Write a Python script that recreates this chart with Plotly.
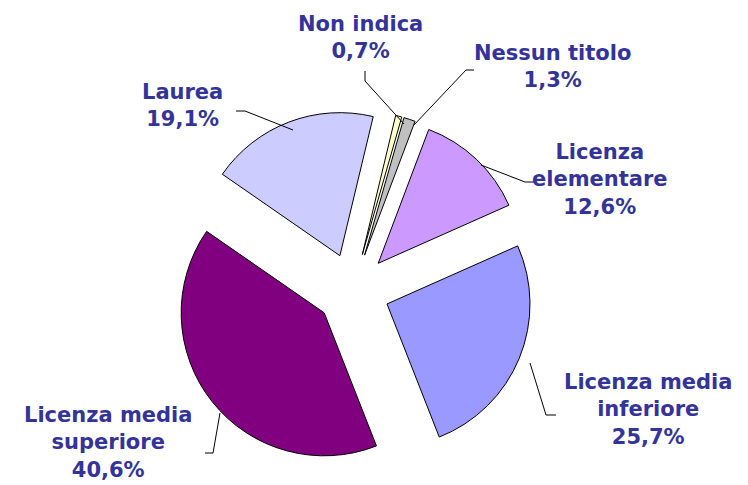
import plotly.graph_objects as go

W, H = 748, 485

categories = ["Nessun titolo", "Licenza elementare", "Licenza media inferiore",
              "Licenza media superiore", "Laurea", "Non indica"]
values = [1.3, 12.6, 25.7, 40.6, 19.1, 0.7]
label_texts = ["Nessun titolo<br>1,3%", "Licenza<br>elementare<br>12,6%",
               "Licenza media<br>inferiore<br>25,7%", "Licenza media<br>superiore<br>40,6%",
               "Laurea<br>19,1%", "Non indica<br>0,7%"]
colors = ["#C0C0C0", "#CC99FF", "#9999FF", "#800080", "#CCCCFF", "#FFFFCC"]

# label centres (pixels) and leader lines (pixels)
label_pos = [(544, 58), (592, 171), (640, 401), (100, 434), (174, 98), (352, 29)]
leaders = [
    [(466, 62), (458, 62), (405, 118)],
    [(527, 174), (517, 174), (473, 157)],
    [(548, 407), (538, 407), (522, 355)],
    [(197, 445), (205, 445), (212, 405)],
    [(228, 103), (237, 103), (285, 122)],
    [(357, 63), (357, 73), (396, 116)],
]

def px(x):
    return x / W

def py(y):
    return 1 - y / H

cx, cy, R, pull = 345, 282, 143, 0.257
box = R * (2 + 2 * pull)
dom_x = [px(cx - box / 2), px(cx + box / 2)]
dom_y = [py(cy + box / 2), py(cy - box / 2)]

fig = go.Figure(go.Pie(
    labels=categories, values=values, sort=False, direction="clockwise",
    rotation=16, pull=[pull] * len(values), textinfo="none", hoverinfo="label+percent",
    marker=dict(colors=colors, line=dict(color="#000000", width=1)),
    domain=dict(x=dom_x, y=dom_y), showlegend=False,
))

annotations = []
for t, (x, y) in zip(label_texts, label_pos):
    annotations.append(dict(
        x=px(x), y=py(y), xref="paper", yref="paper", text=t, showarrow=False,
        xanchor="center", yanchor="middle", align="center",
        font=dict(family="DejaVu Sans", size=21, color="#333399", weight="bold"),
    ))

shapes = []
for pts in leaders:
    path = "M " + " L ".join(f"{px(x)},{py(y)}" for x, y in pts)
    shapes.append(dict(type="path", path=path, xref="paper", yref="paper",
                       line=dict(color="#000000", width=1)))

fig.update_layout(
    width=W, height=H, margin=dict(l=0, r=0, t=0, b=0),
    paper_bgcolor="white", plot_bgcolor="white",
    annotations=annotations, shapes=shapes,
)

fig.write_html("out.html")
